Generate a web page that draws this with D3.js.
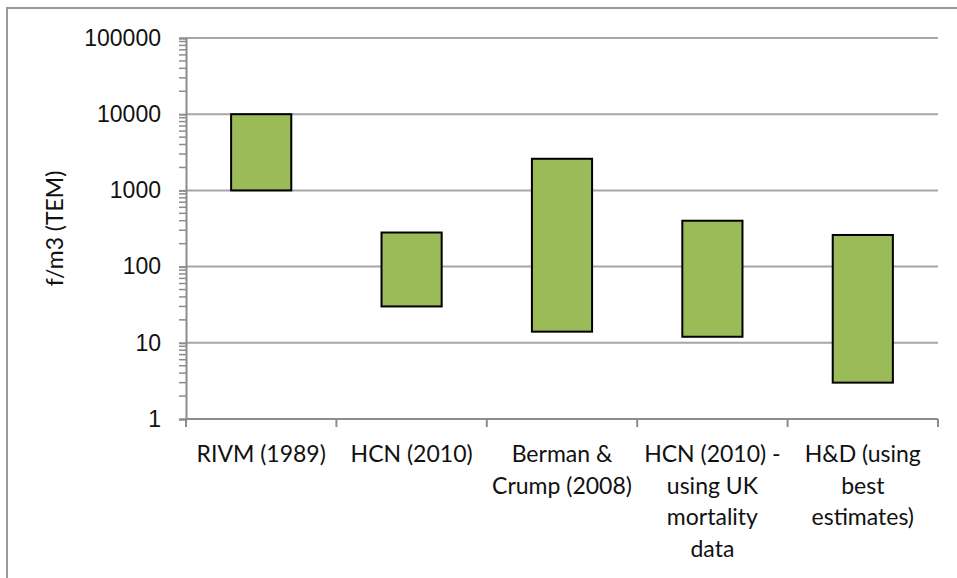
<!DOCTYPE html>
<html>
<head>
<meta charset="utf-8">
<script src="https://cdn.jsdelivr.net/npm/d3@7"></script>
<style>
  body { margin: 0; background: #fff; }
  svg { display: block; font-family: Lato, "Open Sans", sans-serif; }
</style>
</head>
<body>
<div id="chart"></div>
<script>
// categories (line breaks as in the original axis labels)
const categories = [
  "RIVM (1989)",
  "HCN (2010)",
  "Berman &\nCrump (2008)",
  "HCN (2010) -\nusing UK\nmortality\ndata",
  "H&D (using\nbest\nestimates)"
];
const lowValues = [1000, 30, 14, 12, 3];
const highValues = [10000, 280, 2600, 400, 260];
const yTicks = [1, 10, 100, 1000, 10000, 100000];

const width = 957, height = 578;
const margin = {top: 38, right: 19, bottom: 159, left: 186};

const svg = d3.select("#chart").append("svg")
  .attr("width", width)
  .attr("height", height);

// outer chart border (runs off the right/bottom edge)
svg.append("rect")
  .attr("x", 7).attr("y", 8)
  .attr("width", width).attr("height", height)
  .attr("fill", "none")
  .attr("stroke", "#9a9a9a")
  .attr("stroke-width", 2);

const x = d3.scaleBand()
  .domain(categories)
  .range([margin.left, width - margin.right])
  .paddingInner(0.6)
  .paddingOuter(0.3);

const y = d3.scaleLog()
  .domain([1, 100000])
  .range([height - margin.bottom, margin.top]);

// gridlines
svg.append("g")
  .selectAll("line")
  .data(yTicks.slice(1))
  .join("line")
  .attr("x1", margin.left).attr("x2", width - margin.right)
  .attr("y1", d => y(d)).attr("y2", d => y(d))
  .attr("stroke", "#a6a6a6")
  .attr("stroke-width", 2);

// y axis with minor ticks
const minor = [];
yTicks.slice(0, -1).forEach(t => { for (let k = 2; k <= 9; k++) minor.push(t * k); });

const yAxis = svg.append("g")
  .attr("transform", `translate(${margin.left},0)`)
  .call(d3.axisLeft(y).tickValues(yTicks).tickFormat(d3.format("d")).tickSize(7).tickPadding(18));
yAxis.select(".domain").attr("stroke", "#8c8c8c").attr("stroke-width", 2);
yAxis.selectAll(".tick line").attr("stroke", "#8c8c8c").attr("stroke-width", 2);
yAxis.selectAll(".tick text").attr("font-size", 23).attr("fill", "#111");

yAxis.append("g")
  .selectAll("line")
  .data(minor)
  .join("line")
  .attr("x1", -7).attr("x2", 0)
  .attr("y1", d => y(d)).attr("y2", d => y(d))
  .attr("stroke", "#8c8c8c")
  .attr("stroke-width", 1.5);

// x axis: line plus ticks at category boundaries
const x0 = margin.left, step = x.step();
const bounds = d3.range(categories.length + 1).map(i => x0 + i * step);
const baseY = y(1);
svg.append("line")
  .attr("x1", x0).attr("x2", width - margin.right)
  .attr("y1", baseY).attr("y2", baseY)
  .attr("stroke", "#8c8c8c").attr("stroke-width", 2);
svg.append("g")
  .selectAll("line")
  .data(bounds)
  .join("line")
  .attr("x1", d => d).attr("x2", d => d)
  .attr("y1", baseY).attr("y2", baseY + 8)
  .attr("stroke", "#8c8c8c").attr("stroke-width", 2);

// category labels
svg.append("g")
  .selectAll("text")
  .data(categories)
  .join("text")
  .attr("text-anchor", "middle")
  .attr("font-size", 23)
  .attr("fill", "#111")
  .attr("transform", d => `translate(${x(d) + x.bandwidth() / 2},${baseY + 43})`)
  .each(function(d) {
    d.split("\n").forEach((line, i) => {
      d3.select(this).append("tspan")
        .attr("x", 0)
        .attr("y", i * 31.5)
        .text(line);
    });
  });

// floating bars
svg.append("g")
  .selectAll("rect")
  .data(categories)
  .join("rect")
  .attr("x", d => x(d))
  .attr("width", x.bandwidth())
  .attr("y", (d, i) => y(highValues[i]))
  .attr("height", (d, i) => y(lowValues[i]) - y(highValues[i]))
  .attr("fill", "#9bbb59")
  .attr("stroke", "#000")
  .attr("stroke-width", 2);

// y axis title
svg.append("text")
  .attr("transform", `translate(63,${(margin.top + baseY) / 2}) rotate(-90)`)
  .attr("text-anchor", "middle")
  .attr("font-size", 23)
  .attr("fill", "#111")
  .text("f/m3 (TEM)");
</script>
</body>
</html>
